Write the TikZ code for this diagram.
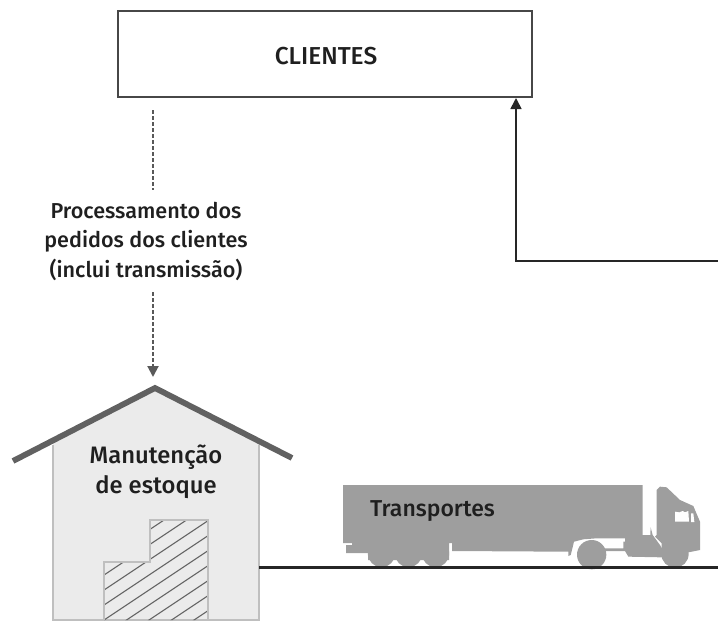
\documentclass[tikz,border=0pt]{standalone}
\usepackage{fontspec}
\setmainfont{Fira Sans}[UprightFont={* Medium},BoldFont={* SemiBold}]
\usetikzlibrary{arrows.meta}
\definecolor{roofc}{gray}{0.38}
\definecolor{wallc}{gray}{0.92}
\definecolor{edgec}{gray}{0.75}
\definecolor{truckc}{gray}{0.62}
\definecolor{inkc}{gray}{0.12}
\tikzset{
  x=1pt,y=-1pt,
  lbl/.style={text=inkc,align=center,inner sep=0pt},
  lblA/.style={lbl,font=\fontsize{21.6}{29.5}\selectfont},
  lblB/.style={lbl,font=\fontsize{23.8}{30}\selectfont},
  lblC/.style={lbl,font=\fontsize{23}{30}\selectfont},
  lblD/.style={lbl,font=\fontsize{24.5}{30}\selectfont},
  boxc/.style={draw=black!72,line width=2.4pt,fill=white,inner sep=0pt},
  solidc/.style={draw=black!85,line width=1.7pt},
  roadc/.style={draw=black!85,line width=2.1pt},
  dashc/.style={draw=black!65,line width=2pt,dash pattern=on 4pt off 2pt},
  tip/.style={-{Triangle[length=11pt,width=11pt]}},
}
\begin{document}
\begin{tikzpicture}
\useasboundingbox (0,0) rectangle (718,622);
% Clients box
\node[boxc,minimum width=414pt,minimum height=86pt] (clientes) at (325,54) {};
\node[lblD] (clientestxt) at (326,56) {CLIENTES};
% label
\node[lblA] (proc) at (146,241) {Processamento dos\\pedidos dos clientes\\(inclui transmissão)};
% house
\coordinate (apex) at (155,388);
\fill[wallc] (53,620) -- (53,440) -- (155,388) -- (259,440) -- (259,620) -- cycle;
\draw[edgec,line width=1.4pt] (53,445) -- (53,620) -- (259,620) -- (259,445);
\begin{scope}
\clip (104,562) -- (150,562) -- (150,520) -- (208,520) -- (208,620) -- (104,620) -- cycle;
\foreach \k in {0,...,9}{
  \draw[black!60,line width=1.1pt] (95,{566+\k*15}) -- (215,{486+\k*15});
}
\end{scope}
\draw[edgec,line width=1.6pt] (104,620) -- (104,562) -- (150,562) -- (150,520) -- (208,520) -- (208,620);
\draw[roofc,line width=5.8pt,line join=miter] (13,461) -- (apex) -- (292,458);
\node[lblB] (manut) at (156,472) {Manutenção\\de estoque};
% truck: trailer and rear axles
\fill[truckc] (343,485) -- (642.7,485) -- (642.7,535) -- (651,535) -- (651,542) -- (625,542) -- (625,538.3) -- (605,538.3) -- (596.7,538.3) -- (583.3,539.3) -- (574,541.7) -- (570.7,555) -- (568.3,556) -- (568.3,551.7) -- (452,551) -- (452,543) -- (449,543) -- (449,560) -- (368,560) -- (368,553) -- (346,553) -- (346,545) -- (352,545) -- (352,543) -- (343,543) -- cycle;
\foreach \cx in {381.5,408.5,435.5}{\fill[truckc] (\cx,553.5) circle (13.7);}
% truck: tractor, traced in a 3x grid
\begin{scope}[shift={(560,480)},scale=1/3]
\fill[truckc] (95,224) circle (44);
\fill[truckc] (345,222) circle (41);
\fill[truckc] (130,205) -- (190,205) -- (190,185) -- (270,180) -- (272,142) -- (278,165) -- (300,195) -- (312,215) -- (305,232) -- (205,230) -- (195,213) -- (130,213) -- cycle;
\fill[truckc] (290,30) -- (300,20) -- (320,22) -- (360,60) -- (400,78) -- (420,125) -- (420,210) -- (385,217) -- (305,217) -- (305,190) -- (285,170) -- (290,165) -- cycle;
\fill[white] (345,95) -- (358,97) -- (368,93) -- (375,97) -- (385,93) -- (387,125) -- (345,125) -- cycle;
\fill[white] (393,100) -- (400,100) -- (403,126) -- (393,126) -- cycle;
\end{scope}
\node[lblC,anchor=west] (transp) at (370,511) {Transportes};
% road and connectors
\coordinate (roadstart) at (259,567.5);
\coordinate (roadend) at (718,567.5);
\draw[roadc] (roadstart) -- (roadend);
\coordinate (retA) at (718,261);
\coordinate (retB) at (516,261);
\coordinate (retC) at (516,98);
\draw[solidc,tip] (retA) -- (retB) -- (retC);
\coordinate (da) at (153,110);
\coordinate (db) at (153,190);
\coordinate (dc) at (153,292);
\coordinate (dd) at (153,377);
\draw[dashc] (da) -- (db);
\draw[dashc,tip] (dc) -- (dd);
\end{tikzpicture}
\end{document}
